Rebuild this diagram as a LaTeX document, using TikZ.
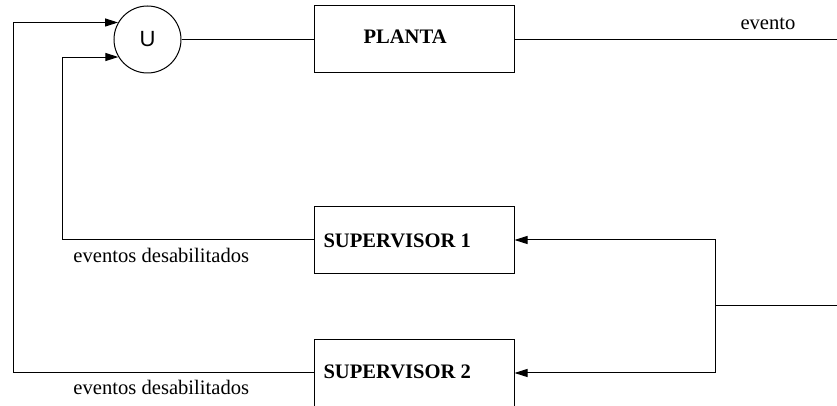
\documentclass[tikz,border=0pt]{standalone}
\usepackage{fontspec}
\setmainfont{Liberation Serif}
\newfontfamily\unionfont{Liberation Sans}
\usetikzlibrary{arrows.meta}
\begin{document}
\begin{tikzpicture}[x=0.5pt,y=-0.5pt,
  line width=0.5pt,
  font=\fontsize{10.3}{12}\selectfont,
  blockbox/.style={draw,rectangle,minimum width=100pt,minimum height=33.5pt,inner sep=0pt},
  blocktext/.style={anchor=base west,inner sep=0pt,font=\fontsize{10.3}{12}\selectfont\bfseries},
  plaintext/.style={anchor=base west,inner sep=0pt},
  arr/.style={-{Triangle[length=6.5pt,width=4pt]}}]
\useasboundingbox (0,0) rectangle (837,406);

% union of the disabled-event sets
\node[draw,circle,minimum size=33.5pt,inner sep=0pt,font=\unionfont\fontsize{11}{12}\selectfont] (c) at (147.5,39.5) {U};

% blocks
\node[blockbox] (p)  at (414,39.5) {};
\node[blockbox] (s1) at (414,240) {};
\node[blockbox] (s2) at (414,373) {};
\node[blocktext] (pt)  at (363,44)  {PLANTA};
\node[blocktext] (s1t) at (323,248) {SUPERVISOR 1};
\node[blocktext] (s2t) at (323,379) {SUPERVISOR 2};

% plant input and output
\coordinate (out) at (837,39.5);
\coordinate (in)  at (837,306);
\draw (c.east) -- (p.west);
\draw (p.east) -- (out);
\node[plaintext] (ev) at (740,30) {evento};

% event feed to both supervisors
\draw[arr] (in) -- ++(-122,0) |- (s1.east);
\draw[arr] (in) -- ++(-122,0) |- (s2.east);

% disabled events back to the union
\draw[arr] (s1.west) -- ++(-251,0) |- (c.211.5);
\draw[arr] (s2.west) -- ++(-300,0) |- (c.150.5);
\node[plaintext] (d1) at (73,263) {eventos desabilitados};
\node[plaintext] (d2) at (73,395) {eventos desabilitados};
\end{tikzpicture}
\end{document}
